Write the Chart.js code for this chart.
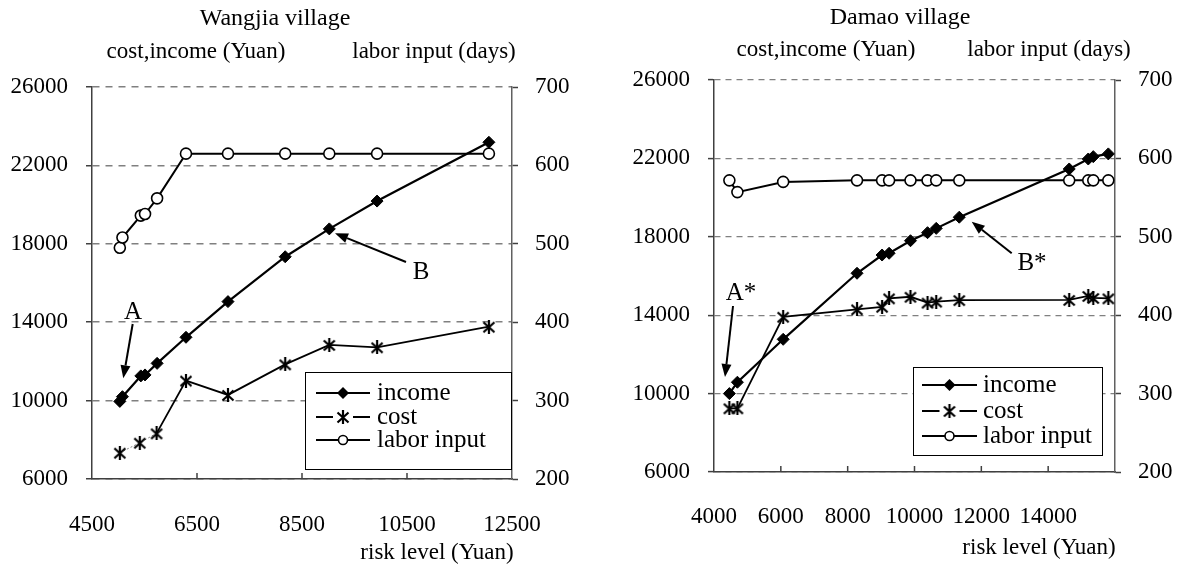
<!DOCTYPE html>
<html>
<head>
<meta charset="utf-8">
<script src="https://cdn.jsdelivr.net/npm/chart.js@4.4.0/dist/chart.umd.min.js"></script>
<style>
  html, body { margin: 0; padding: 0; background: #fff; }
  #wrap { position: relative; width: 1189px; height: 572px; }
  #wangjia { position: absolute; left: 0; top: 0; }
  #damao { position: absolute; left: 594px; top: 0; }
</style>
</head>
<body>
<div id="wrap">
  <canvas id="wangjia" width="594" height="572"></canvas>
  <canvas id="damao" width="595" height="572"></canvas>
</div>
<script>
// ---- Wangjia village ----
const wangjiaRisk = [5030, 5080, 5430, 5510, 5740, 6290, 7090, 8180, 9020, 9930, 12060];
const wangjiaIncome = [9960, 10200, 11260, 11310, 11900, 13230, 15050, 17340, 18760, 20180, 23180];
const wangjiaLabor = [495, 508, 536, 538, 558, 615, 615, 615, 615, 615, 615];
const wangjiaCostRisk = [5030, 5410, 5730, 6290, 7090, 8180, 9020, 9930, 12060];
const wangjiaCost = [7340, 7850, 8330, 11020, 10290, 11850, 12840, 12720, 13770];
const wangjiaXTicks = [4500, 6500, 8500, 10500, 12500];

// ---- Damao village ----
const damaoRisk = [4460, 4700, 6070, 8280, 9030, 9240, 9880, 10390, 10650, 11340, 14630, 15200, 15350, 15800];
const damaoIncome = [10000, 10580, 12770, 16140, 17070, 17160, 17800, 18210, 18430, 19000, 21460, 21970, 22090, 22230];
const damaoCost = [9250, 9250, 13920, 14300, 14430, 14860, 14940, 14640, 14690, 14770, 14780, 14980, 14880, 14860];
const damaoLabor = [572, 557, 570, 572, 572, 572, 572, 572, 572, 572, 572, 572, 572, 572];
const damaoXTicks = [4000, 6000, 8000, 10000, 12000, 14000, 16000];

// shared axes
const moneyTicks = [6000, 10000, 14000, 18000, 22000, 26000];
const laborTicks = [200, 300, 400, 500, 600, 700];

const FONT = "'Liberation Serif', 'Times New Roman', Times, serif";
Chart.defaults.font.family = FONT;
Chart.defaults.font.size = 23;
Chart.defaults.color = '#000';

// excel style asterisk marker (X plus a vertical bar)
function asterisk(size, width) {
    const c = document.createElement('canvas');
    c.width = size; c.height = size;
    const g = c.getContext('2d');
    g.strokeStyle = '#000';
    g.lineWidth = width;
    const m = 1.5;
    g.beginPath();
    g.moveTo(m, m + 1); g.lineTo(size - m, size - m);
    g.moveTo(size - m, m + 1); g.lineTo(m, size - m);
    g.moveTo(size / 2, 0); g.lineTo(size / 2, size);
    g.stroke();
    return c;
}
const starMark = asterisk(14, 2.2);

function series(xs, ys) {
    return xs.map((x, i) => ({ x: x, y: ys[i] }));
}

function drawMarker(ctx, ds, x, y) {
    ctx.save();
    ctx.strokeStyle = '#000';
    if (ds.pointStyle === 'rectRot') {
        const r = ds.pointRadius;
        ctx.fillStyle = '#000';
        ctx.beginPath();
        ctx.moveTo(x, y - r); ctx.lineTo(x + r, y); ctx.lineTo(x, y + r); ctx.lineTo(x - r, y);
        ctx.closePath();
        ctx.fill();
    } else if (ds.pointStyle === 'circle') {
        ctx.fillStyle = '#fff';
        ctx.lineWidth = ds.pointBorderWidth;
        ctx.beginPath();
        ctx.arc(x, y, ds.pointRadius - 1, 0, Math.PI * 2);
        ctx.fill();
        ctx.stroke();
    } else {
        const img = ds.pointStyle;
        ctx.drawImage(img, x - img.width / 2, y - img.height / 2);
    }
    ctx.restore();
}

function arrow(ctx, x1, y1, x2, y2) {
    const a = Math.atan2(y2 - y1, x2 - x1);
    const len = 13, half = 5;
    const bx = x2 - Math.cos(a) * len, by = y2 - Math.sin(a) * len;
    ctx.beginPath();
    ctx.moveTo(x1, y1); ctx.lineTo(bx, by);
    ctx.stroke();
    ctx.beginPath();
    ctx.moveTo(x2, y2);
    ctx.lineTo(bx + Math.sin(a) * half, by - Math.cos(a) * half);
    ctx.lineTo(bx - Math.sin(a) * half, by + Math.cos(a) * half);
    ctx.closePath();
    ctx.fill();
}

// titles, inner x ticks, annotations and the boxed legend
const decor = {
    id: 'decor',
    afterDraw(chart, args, o) {
        const ctx = chart.ctx;
        const xs = chart.scales.x, ys = chart.scales.y;
        const area = chart.chartArea;
        ctx.save();

        ctx.strokeStyle = '#404040';
        ctx.lineWidth = 1.5;
        o.innerTicks.forEach(v => {
            const px = xs.getPixelForValue(v);
            ctx.beginPath();
            ctx.moveTo(px, area.bottom);
            ctx.lineTo(px, area.bottom - 6);
            ctx.stroke();
        });

        ctx.fillStyle = '#000';
        ctx.textAlign = 'center';
        ctx.textBaseline = 'middle';
        o.texts.forEach(t => {
            ctx.font = t.size + 'px ' + FONT;
            ctx.fillText(t.text, t.x, t.y);
        });

        // annotations live in data space
        ctx.strokeStyle = '#000';
        ctx.lineWidth = 2;
        o.notes.forEach(n => {
            ctx.font = '25px ' + FONT;
            ctx.fillText(n.text, xs.getPixelForValue(n.x), ys.getPixelForValue(n.y));
            arrow(ctx,
                xs.getPixelForValue(n.from[0]), ys.getPixelForValue(n.from[1]),
                xs.getPixelForValue(n.to[0]), ys.getPixelForValue(n.to[1]));
        });

        const L = o.legend;
        ctx.fillStyle = '#fff';
        ctx.fillRect(L.left, L.top, L.width, L.height);
        ctx.strokeStyle = '#000';
        ctx.lineWidth = 1;
        ctx.strokeRect(L.left + 0.5, L.top + 0.5, L.width, L.height);
        ctx.font = '25px ' + FONT;
        ctx.textAlign = 'left';
        chart.data.datasets.forEach((ds, i) => {
            const y = L.top + L.rows[i];
            const cx = (L.x0 + L.x1) / 2;
            ctx.strokeStyle = '#000';
            ctx.lineWidth = 2;
            ctx.beginPath();
            if (ds.label === 'cost') {
                ctx.moveTo(L.x0, y); ctx.lineTo(cx - 10, y);
                ctx.moveTo(cx + 10, y); ctx.lineTo(L.x1, y);
            } else {
                ctx.moveTo(L.x0, y); ctx.lineTo(L.x1, y);
            }
            ctx.stroke();
            drawMarker(ctx, ds, cx, y);
            ctx.fillStyle = '#000';
            ctx.fillText(ds.label, L.textX, y);
        });
        ctx.restore();
    }
};

function buildChart(canvasId, d) {
    return new Chart(document.getElementById(canvasId), {
        type: 'line',
        data: {
            datasets: [
                {
                    label: 'income',
                    data: series(d.risk, d.income),
                    yAxisID: 'y',
                    borderColor: '#000',
                    borderWidth: 2.2,
                    pointStyle: 'rectRot',
                    pointRadius: 6,
                    pointBackgroundColor: '#000',
                    pointBorderColor: '#000',
                    pointBorderWidth: 1,
                },
                {
                    label: 'cost',
                    data: series(d.costRisk, d.cost),
                    yAxisID: 'y',
                    borderColor: '#000',
                    borderWidth: 1.8,
                    pointStyle: starMark,
                    pointRadius: 6,
                    segment: d.costSegment,
                },
                {
                    label: 'labor input',
                    data: series(d.risk, d.labor),
                    yAxisID: 'y1',
                    borderColor: '#000',
                    borderWidth: 2,
                    pointStyle: 'circle',
                    pointRadius: 5.5,
                    pointBackgroundColor: '#fff',
                    pointBorderColor: '#000',
                    pointBorderWidth: 1.6,
                },
            ],
        },
        options: {
            responsive: false,
            animation: false,
            devicePixelRatio: 1,
            layout: { padding: { top: d.top, left: 0, right: 0, bottom: 0 } },
            plugins: {
                legend: { display: false },
                tooltip: { enabled: false },
                decor: d.decor,
            },
            scales: {
                x: {
                    type: 'linear',
                    min: d.xTicks[0],
                    max: d.xTicks[d.xTicks.length - 1],
                    afterBuildTicks: s => { s.ticks = d.xTicks.map(v => ({ value: v })); },
                    afterFit: s => { s.height = d.xHeight; },
                    grid: { display: false, drawTicks: false },
                    border: { color: '#404040', width: 1.5 },
                    ticks: {
                        padding: d.xPad,
                        autoSkip: false,
                        maxRotation: 0,
                        callback: v => (d.hideX.includes(v) ? '' : String(v)),
                    },
                },
                y: {
                    position: 'left',
                    min: 6000,
                    max: 26000,
                    afterBuildTicks: s => { s.ticks = moneyTicks.map(v => ({ value: v })); },
                    afterFit: s => { s.width = d.yWidth; },
                    grid: {
                        color: '#808080',
                        lineWidth: d.gridWidth,
                        tickLength: 6,
                        tickColor: '#404040',
                        tickWidth: 1.5,
                        tickBorderDash: [],
                    },
                    border: { color: '#404040', width: 1.5, dash: d.gridDash },
                    ticks: { padding: 18, autoSkip: false, callback: v => String(v) },
                },
                y1: {
                    position: 'right',
                    min: 200,
                    max: 700,
                    afterBuildTicks: s => { s.ticks = laborTicks.map(v => ({ value: v })); },
                    afterFit: s => { s.width = d.y1Width; },
                    grid: {
                        drawOnChartArea: false,
                        tickLength: 6,
                        tickColor: '#404040',
                        tickWidth: 1.5,
                    },
                    border: { color: '#606060', width: 1.5 },
                    ticks: { padding: 17, autoSkip: false, callback: v => String(v) },
                },
            },
        },
        plugins: [decor],
    });
}

buildChart('wangjia', {
    risk: wangjiaRisk,
    income: wangjiaIncome,
    labor: wangjiaLabor,
    costRisk: wangjiaCostRisk,
    cost: wangjiaCost,
    xTicks: wangjiaXTicks,
    hideX: [],
    top: 87, xHeight: 93, yWidth: 92, y1Width: 82, xPad: 32,
    gridWidth: 1.5, gridDash: [7, 6],
    // the first two cost segments are only faintly dotted in the figure
    costSegment: {
        borderDash: c => (c.p0DataIndex < 2 ? [2, 2] : undefined),
        borderWidth: c => (c.p0DataIndex < 2 ? 1 : undefined),
        borderColor: c => (c.p0DataIndex < 2 ? '#888' : undefined),
    },
    decor: {
        innerTicks: [6500, 8500, 10500],
        texts: [
            { text: 'Wangjia village', x: 275, y: 19, size: 24 },
            { text: 'cost,income (Yuan)', x: 196, y: 52, size: 23 },
            { text: 'labor input (days)', x: 434, y: 52, size: 23 },
            { text: 'risk level (Yuan)', x: 437, y: 553, size: 23 },
        ],
        notes: [
            { text: 'A', x: 5281, y: 14520, from: [5275, 13908], to: [5096, 11138] },
            { text: 'B', x: 10767, y: 16561, from: [10481, 17072], to: [9129, 18536] },
        ],
        legend: { left: 305, top: 372, width: 206, height: 97, rows: [21, 45, 68], x0: 316, x1: 370, textX: 377 },
    },
});

buildChart('damao', {
    risk: damaoRisk,
    income: damaoIncome,
    labor: damaoLabor,
    costRisk: damaoRisk,
    cost: damaoCost,
    xTicks: damaoXTicks,
    hideX: [16000],
    top: 80, xHeight: 100, yWidth: 120, y1Width: 74, xPad: 31,
    gridWidth: 1.2, gridDash: [6, 5],
    costSegment: {},
    decor: {
        innerTicks: [6000, 8000, 10000, 12000, 14000],
        texts: [
            { text: 'Damao village', x: 306, y: 18, size: 24 },
            { text: 'cost,income (Yuan)', x: 232, y: 50, size: 23 },
            { text: 'labor input (days)', x: 455, y: 50, size: 23 },
            { text: 'risk level (Yuan)', x: 445, y: 548, size: 23 },
        ],
        notes: [
            { text: 'A*', x: 4808, y: 15133, from: [4569, 14470], to: [4329, 10847] },
            { text: 'B*', x: 13516, y: 16663, from: [12909, 17158], to: [11712, 18771] },
        ],
        legend: { left: 319, top: 367, width: 189, height: 88, rows: [18, 44, 69], x0: 328, x1: 383, textX: 389 },
    },
});
</script>
</body>
</html>
